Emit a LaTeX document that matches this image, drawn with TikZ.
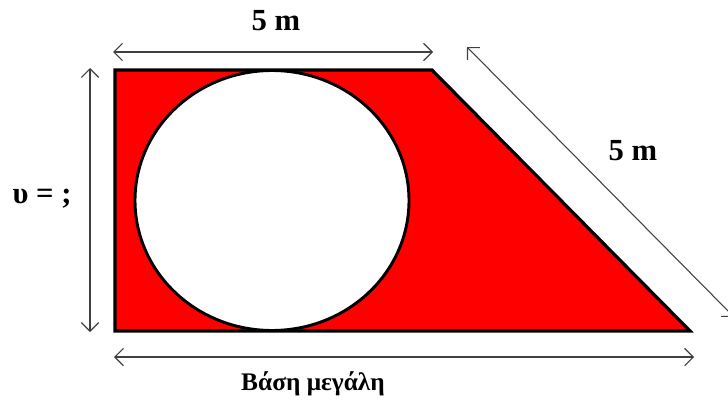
\documentclass[tikz,border=0pt]{standalone}
\usepackage{fontspec}
\setmainfont{Liberation Serif}
\usetikzlibrary{arrows.meta}
\begin{document}
\begin{tikzpicture}[x=0.75pt,y=-0.75pt,
  dimline/.style={draw=black!75, line width=0.8pt,
    {Straight Barb[length=6.5pt,width=13pt]}-{Straight Barb[length=6.5pt,width=13pt]}},
  lbl/.style={font=\fontsize{23}{26}\selectfont\bfseries, inner sep=0pt},
  blbl/.style={font=\fontsize{19}{22}\selectfont\bfseries, inner sep=0pt}]
\useasboundingbox (0,0) rectangle (728,403);
\begin{scope}
\clip (0,0) rectangle (728,403);
% trapezoid
\coordinate (TL) at (115,70);
\coordinate (TR) at (432,70);
\coordinate (BR) at (690,331);
\coordinate (BL) at (115,331);
\draw[fill=red, line width=2.4pt, line join=miter] (TL) -- (TR) -- (BR) -- (BL) -- cycle;
% circle
\draw[fill=white, line width=2.2pt] (272,200.5) ellipse [x radius=137, y radius=130];
% dimension lines
\coordinate (t1) at (113,52);
\coordinate (t2) at (433,52);
\draw[dimline] (t1) -- (t2);
\coordinate (l1) at (90,68);
\coordinate (l2) at (90,332);
\draw[dimline] (l1) -- (l2);
\coordinate (b1) at (114,357);
\coordinate (b2) at (694,357);
\draw[dimline] (b1) -- (b2);
\coordinate (d1) at (467,47);
\coordinate (d2) at (734,317);
\draw[dimline] (d1) -- (d2);
\end{scope}
% labels
\node[lbl] (ltop) at (276,21) {5 m};
\node[lbl] (lleft) at (42,199) {υ = ;};
\node[blbl] (lbot) at (313,384) {Βάση μεγάλη};
\node[lbl] (ldiag) at (633,151) {5 m};
\end{tikzpicture}
\end{document}
